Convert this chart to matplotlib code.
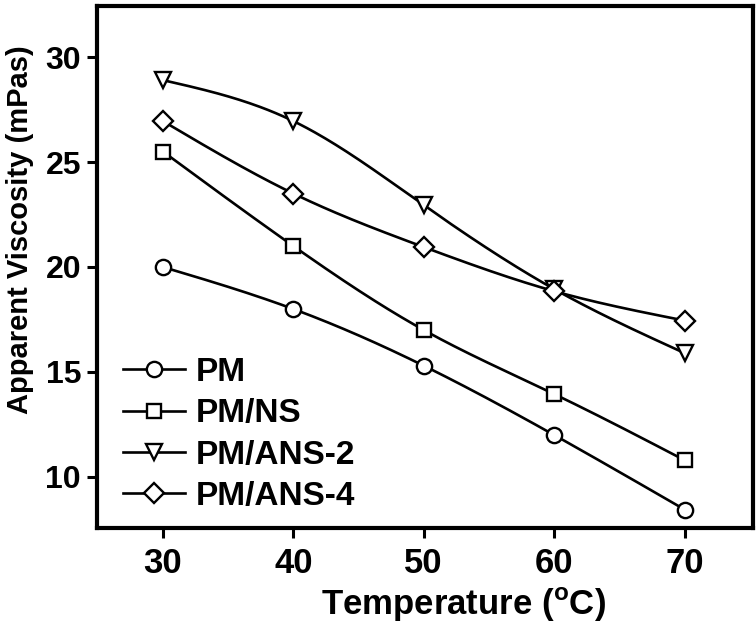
import numpy as np
import matplotlib
matplotlib.use("Agg")
import matplotlib.pyplot as plt
from matplotlib.lines import Line2D

temperature = [30, 40, 50, 60, 70]
pm = [20.0, 18.0, 15.3, 12.0, 8.45]
pm_ns = [25.5, 21.0, 17.0, 13.95, 10.8]
pm_ans2 = [28.9, 26.95, 22.95, 18.95, 15.9]
pm_ans4 = [26.95, 23.5, 20.95, 18.85, 17.45]
series_labels = ["PM", "PM/NS", "PM/ANS-2", "PM/ANS-4"]
x_ticks = [30, 40, 50, 60, 70]
y_ticks = [10, 15, 20, 25, 30]

plt.rcParams['font.family'] = ['Liberation Sans', 'DejaVu Sans']
plt.rcParams['font.weight'] = 'bold'
plt.rcParams['mathtext.fontset'] = 'custom'
plt.rcParams['mathtext.rm'] = 'Liberation Sans:bold'
plt.rcParams['mathtext.bf'] = 'Liberation Sans:bold'


def natural_spline(x, y, n=200):
    x = np.asarray(x, float)
    y = np.asarray(y, float)
    m = len(x)
    h = np.diff(x)
    A = np.zeros((m, m))
    b = np.zeros(m)
    A[0, 0] = 1
    A[-1, -1] = 1
    for i in range(1, m - 1):
        A[i, i - 1] = h[i - 1]
        A[i, i] = 2 * (h[i - 1] + h[i])
        A[i, i + 1] = h[i]
        b[i] = 6 * ((y[i + 1] - y[i]) / h[i] - (y[i] - y[i - 1]) / h[i - 1])
    M = np.linalg.solve(A, b)
    xs = np.linspace(x[0], x[-1], n)
    ys = np.empty_like(xs)
    for k, xv in enumerate(xs):
        i = min(np.searchsorted(x, xv, side='right') - 1, m - 2)
        t1 = x[i + 1] - xv
        t0 = xv - x[i]
        ys[k] = (M[i] * t1 ** 3 / (6 * h[i]) + M[i + 1] * t0 ** 3 / (6 * h[i])
                 + (y[i] / h[i] - M[i] * h[i] / 6) * t1
                 + (y[i + 1] / h[i] - M[i + 1] * h[i] / 6) * t0)
    return xs, ys


fig = plt.figure(figsize=(7.56, 6.31), dpi=100)
ax = fig.add_axes([97 / 756, 1 - 528 / 631, (753 - 97) / 756, (528 - 6) / 631])

markers = ['o', 's', 'v', 'D']
sizes = [11, 10, 12, 10]
lw = 1.9
handles = []
for vals, mk, ms, lab in zip([pm, pm_ns, pm_ans2, pm_ans4], markers, sizes, series_labels):
    xs, ys = natural_spline(temperature, vals)
    ax.plot(xs, ys, color='black', lw=lw, zorder=2)
    ax.plot(temperature, vals, linestyle='none', marker=mk, ms=ms,
            mfc='white', mec='black', mew=1.7, zorder=3)
    handles.append(Line2D([], [], color='black', lw=lw, marker=mk, ms=ms,
                          mfc='white', mec='black', mew=1.7, label=lab))

ax.set_xlim(24.95, 75.25)
ax.set_ylim(7.57, 32.43)
ax.set_xticks(x_ticks)
ax.set_yticks(y_ticks)
ax.tick_params(axis='both', direction='out', length=7.5, width=2.2)
ax.tick_params(axis='x', labelsize=25, pad=6)
ax.tick_params(axis='y', labelsize=23, pad=4)
for lab in ax.get_xticklabels() + ax.get_yticklabels():
    lab.set_fontweight('bold')
for sp in ax.spines.values():
    sp.set_linewidth(3)

leg = ax.legend(handles=handles, loc='upper left',
                bbox_to_anchor=(123 / 756, 1 - 357 / 631), bbox_transform=fig.transFigure,
                frameon=False, fontsize=24, handlelength=1.86, handletextpad=0.33,
                labelspacing=0.31, borderpad=0, borderaxespad=0)
for t in leg.get_texts():
    t.set_fontweight('bold')

fig.text(463 / 756, 1 - 605 / 631, r'Temperature ($^{\rm o}$C)', ha='center', va='center',
         fontsize=25, fontweight='bold')
fig.text(20 / 756, 1 - 230 / 631, 'Apparent Viscosity (mPas)', ha='center', va='center',
         rotation=90, fontsize=21, fontweight='bold')

fig.savefig('out.png', dpi=100, facecolor='white')
